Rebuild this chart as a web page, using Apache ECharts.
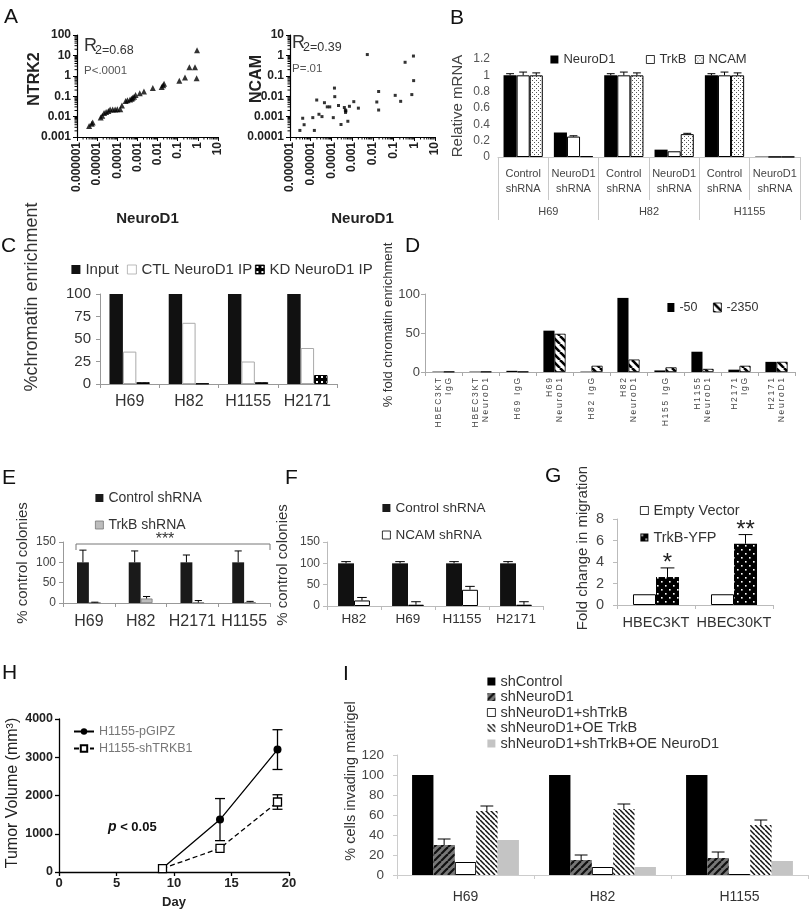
<!DOCTYPE html>
<html><head><meta charset="utf-8">
<script src="https://cdn.jsdelivr.net/npm/echarts@6/dist/echarts.min.js"></script>
<style>html,body{margin:0;padding:0;background:#fff}#c{width:812px;height:909px}</style>
</head><body><div id="c"></div>
<script>
// ================= DATA =================
// Panel A (left): NeuroD1 vs NTRK2
const aNeuroD1_1 = [4.0e-6,5.4e-6,6.0e-6,1.5e-5,1.8e-5,2.2e-5,2.8e-5,3.6e-5,4.4e-5,5.9e-5,7.8e-5,1.0e-4,1.4e-4,1.7e-4,2.6e-4,3.2e-4,4.3e-4,5.2e-4,5.8e-4,6.8e-4,8.1e-4,1.3e-3,2.1e-3,5.8e-3,0.016,0.019,0.021,0.12,0.23,0.38,0.72,0.87,0.91];
const aNTRK2 = [0.0035,0.0045,0.0052,0.0091,0.011,0.015,0.017,0.019,0.022,0.022,0.022,0.023,0.023,0.035,0.058,0.063,0.068,0.076,0.085,0.095,0.115,0.14,0.17,0.25,0.28,0.34,0.41,0.58,0.83,2.6,2.6,0.76,18];
// Panel A (right): NeuroD1 vs NCAM
const aNeuroD1_2 = [3.0e-6,4.1e-6,4.8e-6,1.26e-5,1.5e-5,1.95e-5,2.5e-5,3.5e-5,4.6e-5,6.3e-5,8.3e-5,1.23e-4,1.4e-4,1.45e-4,2.2e-4,2.9e-4,4.2e-4,4.7e-4,4.8e-4,5.0e-4,6.2e-4,7.4e-4,1.2e-3,2.0e-3,5.4e-3,0.0155,0.019,0.019,0.12,0.22,0.36,0.76,0.91,0.93];
const aNCAM = [2.1e-4,8.3e-4,4.0e-4,8.9e-4,2.1e-4,6.5e-3,1.3e-3,1.0e-3,4.8e-3,3.0e-3,3.0e-3,8.9e-4,0.025,9.5e-3,3.5e-3,4.1e-4,2.8e-3,2.1e-3,1.6e-3,1.9e-3,5.9e-4,3.2e-3,5.4e-3,2.6e-3,1.1,5.2e-3,0.017,2.1e-3,0.011,5.6e-3,0.46,0.012,0.93,0.058];
const aXTickLabels = ['0.000001','0.00001','0.0001','0.001','0.01','0.1','1','10'];
const aY1TickLabels = ['0.001','0.01','0.1','1','10','100'];
const aY2TickLabels = ['0.0001','0.001','0.01','0.1','1','10'];

// Panel B
const bCats = ['Control\nshRNA','NeuroD1\nshRNA','Control\nshRNA','NeuroD1\nshRNA','Control\nshRNA','NeuroD1\nshRNA'];
const bGroups = ['H69','H82','H1155'];
const bNeuroD1 = [1,0.30,1,0.09,1,0.005];
const bNeuroD1Err = [0.02,0,0.02,0,0.02,0];
const bTrkB = [1,0.25,1,0.07,1,0.002];
const bTrkBErr = [0.04,0.01,0.04,0,0.04,0];
const bNCAM = [1,0.01,1,0.28,1,0.002];
const bNCAMErr = [0.03,0,0.03,0.01,0.03,0];

// Panel C
const cCats = ['H69','H82','H1155','H2171'];
const cInput = [100,100,100,100];
const cCTL = [36,68,25,40];
const cKD = [2,0.5,2,10];

// Panel D
const dCats = ['HBEC3KT\nIgG','HBEC3KT\nNeuroD1','H69 IgG','H69\nNeuroD1','H82 IgG','H82\nNeuroD1','H155 IgG','H1155\nNeuroD1','H2171\nIgG','H2171\nNeuroD1'];
const dM50 = [0.5,0.5,1.5,53,0.5,95,2,26,3,13];
const dM2350 = [0.5,0.5,0.5,49,8,16,6,4,8,13];

// Panel E
const eCats = ['H69','H82','H2171','H1155'];
const eControl = [100,100,100,100];
const eControlErr = [30,28,18,28];
const eTrkB = [1,11,1,2];
const eTrkBErr = [1,5,5,2];

// Panel F
const fCats = ['H82','H69','H1155','H2171'];
const fControl = [100,100,100,100];
const fControlErr = [4,4,4,4];
const fNCAM = [13,3,38,3];
const fNCAMErr = [7,7,8,7];

// Panel G
const gCats = ['HBEC3KT','HBEC30KT'];
const gEmpty = [1,1];
const gTrkB = [2.6,5.7];
const gTrkBErr = [0.85,0.85];
const gStars = ['*','**'];

// Panel H
const hDays = [9,14,19];
const hPGIPZ = [100,1370,3200];
const hPGIPZErr = [0,550,520];
const hShTRKB1 = [90,620,1830];
const hShTRKB1Err = [0,0,190];

// Panel I
const iCats = ['H69','H82','H1155'];
const iShControl = [100,100,100];
const iShNeuroD1 = [30,15,17];
const iShNeuroD1Err = [6,5,6];
const iShTrkB = [13,8,1];
const iOETrkB = [64,66,50];
const iOETrkBErr = [5,5,5];
const iOENeuroD1 = [35,8,14];

// ================= BUILD =================
const F = 'Liberation Sans';
const grids = [], xAxes = [], yAxes = [], series = [], legends = [], graphics = [];

function mkPattern(size, bg, draw){
  const c = document.createElement('canvas'); c.width = c.height = size;
  const g = c.getContext('2d'); g.fillStyle = bg; g.fillRect(0,0,size,size); draw(g,size);
  return {image:c, repeat:'repeat'};
}
const dotsPat = mkPattern(4,'#fff',g=>{g.fillStyle='#555';g.fillRect(0,0,1,1);g.fillRect(2,2,1,1);});
const kdPat = mkPattern(5,'#000',g=>{g.fillStyle='#fff';g.fillRect(1,1,2,2);});
const yfpPat = mkPattern(8,'#000',g=>{g.fillStyle='#fff';g.fillRect(1,1,1.6,1.6);g.fillRect(5,5,1.6,1.6);});
function backPat(size,bg,fg,lw){return mkPattern(size,bg,(g,s)=>{g.strokeStyle=fg;g.lineWidth=lw;for(const k of [-s,0,s]){g.beginPath();g.moveTo(k,0);g.lineTo(k+s,s);g.stroke();}});}
function fwdPat(size,bg,fg,lw){return mkPattern(size,bg,(g,s)=>{g.strokeStyle=fg;g.lineWidth=lw;for(const k of [-s,0,s]){g.beginPath();g.moveTo(k,s);g.lineTo(k+s,0);g.stroke();}});}
const d2350Pat = backPat(8,'#fff','#000',2.6);
const iNeuroPat = fwdPat(7,'#777','#111',2.2);
const iOEPat = backPat(5,'#fff','#111',1.5);

function addGrid(l,t,w,h){grids.push({left:l,top:t,width:w,height:h,containLabel:false,outerBoundsMode:'none'});return grids.length-1;}

function catAxis(gi,data,o){
  o=o||{};
  const lc=o.lc||'#999';
  return {type:'category',gridIndex:gi,data,
    axisLine:{show:o.line!==false,lineStyle:{color:lc,width:1}},
    axisTick:{show:true,length:o.tl||4,interval:0,lineStyle:{color:lc}},
    axisLabel:{interval:0,hideOverlap:false,fontSize:o.fs||12,color:o.c||'#333',margin:o.m==null?8:o.m,fontFamily:F,lineHeight:o.lh,rotate:o.rot||0,formatter:o.fmt},
    splitLine:{show:false},position:o.pos||'bottom',offset:o.off||0};
}
function valAxis(gi,min,max,interval,o){
  o=o||{};
  const lc=o.lc||'#999';
  return {type:'value',gridIndex:gi,min,max,interval,
    axisLine:{show:o.line!==false,lineStyle:{color:lc,width:o.lw||1}},
    axisTick:{show:o.tick!==false,length:4,lineStyle:{color:lc,width:o.lw||1}},
    axisLabel:{fontSize:o.fs||12,color:o.c||'#444',margin:o.m==null?8:o.m,fontFamily:F,fontWeight:o.fw||'normal',showMinLabel:true,showMaxLabel:true,formatter:v=>String(+v.toFixed(4))},
    splitLine:{show:false}};
}
function bar(name,xi,yi,data,color,gap,o){
  o=o||{};
  return {type:'bar',name,xAxisIndex:xi,yAxisIndex:yi,data,barGap:'0%',barCategoryGap:(gap*100)+'%',
    itemStyle:{color,borderColor:o.bc||'transparent',borderWidth:o.bw||0},emphasis:{disabled:true},silent:true};
}
function errSeries(xi,yi,vals,errs,bi,n,gap,stars,starSize){
  const data = vals.map((v,i)=>[i,v,errs[i]]);
  return {type:'custom',xAxisIndex:xi,yAxisIndex:yi,silent:true,z:5,data,
    renderItem(params,api){
      const i=api.value(0), v=api.value(1), e=api.value(2);
      const p0=api.coord([i,v]), p1=api.coord([i,v+e]);
      const band=api.size([1,0])[0];
      const bw=band*(1-gap)/n;
      const x=p0[0]-band*(1-gap)/2+bw*(bi+0.5);
      const cap=Math.max(2.5,bw*0.3);
      const ch=[];
      if(e>0){
        ch.push({type:'line',shape:{x1:x,y1:p0[1],x2:x,y2:p1[1]},style:{stroke:'#000',lineWidth:1}});
        ch.push({type:'line',shape:{x1:x-cap,y1:p1[1],x2:x+cap,y2:p1[1]},style:{stroke:'#000',lineWidth:1}});
      }
      if(stars){
        ch.push({type:'text',x:x,y:p1[1]-4.5,style:{text:stars[params.dataIndex],fontSize:starSize,fontFamily:F,fill:'#222',align:'center',verticalAlign:'middle'}});
      }
      return {type:'group',children:ch};
    }};
}
function leg(names,left,top,o){
  o=o||{};
  const l={data:names,left,top,orient:o.orient||'horizontal',itemWidth:o.iw||8,itemHeight:o.ih||8,itemGap:o.gap==null?10:o.gap,padding:0,selectedMode:false,
    itemStyle:{borderWidth:0.8},
    textStyle:{fontSize:o.fs||13,color:o.c||'#333',fontFamily:F,lineHeight:o.lh}};
  if(o.icon!==null) l.icon=o.icon||'rect'; else delete l.itemStyle;
  legends.push(l);
}
function txt(x,y,text,o){
  o=o||{};
  graphics.push({type:'text',x,y,rotation:o.rot||0,silent:true,style:{text,fontSize:o.fs||14,fontFamily:F,fontWeight:o.fw||'normal',fill:o.c||'#222',align:o.align||'left',verticalAlign:o.va||'middle',rich:o.rich}});
}
function vtext(x,y,text,fs,c,fw){txt(x,y,text,{rot:Math.PI/2,fs,align:'center',c:c||'#333',fw});}

// ---------- Panel A ----------
function logAxisX(gi,labels){
  return {type:'log',gridIndex:gi,logBase:10,min:1e-6,max:10,
    axisLine:{lineStyle:{color:'#000',width:1.2}},axisTick:{length:4,lineStyle:{color:'#000'}},
    axisLabel:{rotate:90,fontSize:12,fontWeight:'bold',color:'#222',margin:5,fontFamily:F,showMinLabel:true,showMaxLabel:true,
      formatter:v=>labels[Math.round(Math.log10(v))+6]},
    splitLine:{show:false},name:'NeuroD1',nameLocation:'middle',nameGap:74,
    nameTextStyle:{fontSize:15,fontWeight:'bold',color:'#222',fontFamily:F}};
}
function logAxisY(gi,labels,min,max){
  const off=-Math.round(Math.log10(min));
  return {type:'log',gridIndex:gi,logBase:10,min,max,
    axisLine:{lineStyle:{color:'#000',width:1.2}},axisTick:{length:4,lineStyle:{color:'#000'}},
    axisLabel:{fontSize:12,fontWeight:'bold',color:'#222',margin:6,fontFamily:F,showMinLabel:true,showMaxLabel:true,
      formatter:v=>labels[Math.round(Math.log10(v))+off]},
    splitLine:{show:false}};
}
// log minor ticks (2..9 x 10^k) drawn along each log axis
function logMinor(xi,yi,xMin,xMax,yMin,yMax){
  const d=[];
  for(let k=Math.round(Math.log10(xMin));k<Math.round(Math.log10(xMax));k++) for(let m=2;m<10;m++) d.push([m*Math.pow(10,k),yMin,0]);
  for(let k=Math.round(Math.log10(yMin));k<Math.round(Math.log10(yMax));k++) for(let m=2;m<10;m++) d.push([xMin,m*Math.pow(10,k),1]);
  return {type:'custom',xAxisIndex:xi,yAxisIndex:yi,silent:true,clip:false,data:d,
    renderItem(p,api){
      const c=api.coord([api.value(0),api.value(1)]);
      const s={stroke:'#000',lineWidth:1};
      return api.value(2)===0
        ? {type:'line',shape:{x1:c[0],y1:c[1],x2:c[0],y2:c[1]+2.5},style:s}
        : {type:'line',shape:{x1:c[0]-2.5,y1:c[1],x2:c[0],y2:c[1]},style:s};
    }};
}
const gA1=addGrid(77,35,141,102), gA2=addGrid(290,35,145,102);
xAxes.push(logAxisX(gA1,aXTickLabels)); const xA1=xAxes.length-1;
xAxes.push(logAxisX(gA2,aXTickLabels)); const xA2=xAxes.length-1;
yAxes.push(logAxisY(gA1,aY1TickLabels,0.001,100)); const yA1=yAxes.length-1;
yAxes.push(logAxisY(gA2,aY2TickLabels,0.0001,10)); const yA2=yAxes.length-1;
series.push({type:'scatter',name:'A-NTRK2',xAxisIndex:xA1,yAxisIndex:yA1,symbol:'triangle',symbolSize:6,itemStyle:{color:'#000'},data:aNeuroD1_1.map((x,i)=>[x,aNTRK2[i]]),silent:true});
series.push({type:'scatter',name:'A-NCAM',xAxisIndex:xA2,yAxisIndex:yA2,symbol:'rect',symbolSize:3,itemStyle:{color:'#000'},data:aNeuroD1_2.map((x,i)=>[x,aNCAM[i]]),silent:true});
series.push(logMinor(xA1,yA1,1e-6,10,0.001,100));
series.push(logMinor(xA2,yA2,1e-6,10,0.0001,10));
vtext(35,79,'NTRK2',16,'#222','bold');
vtext(257,79,'NCAM',16,'#222','bold');
txt(84,46,'R',{fs:18,c:'#333'}); txt(95,51,'2=0.68',{fs:12.5,c:'#333'});
txt(84,71,'P<.0001',{fs:11.5,c:'#555'});
txt(292,43,'R',{fs:18,c:'#333'}); txt(303,48,'2=0.39',{fs:12.5,c:'#333'});
txt(292,69,'P=.01',{fs:11.5,c:'#555'});

// ---------- Panel B ----------
const gB=addGrid(498,59,302,98);
xAxes.push(catAxis(gB,bCats,{lc:'#c8c8c8',tl:43,fs:11,c:'#444',m:9,lh:15})); const xB=xAxes.length-1;
xAxes.push(catAxis(gB,bGroups,{lc:'#c8c8c8',tl:20,fs:11,c:'#444',m:6,off:43,line:false})); 
yAxes.push(valAxis(gB,0,1.2,0.2,{line:false,tick:false,c:'#555',m:8})); const yB=yAxes.length-1;
const gapB=0.22;
series.push(bar('NeuroD1',xB,yB,bNeuroD1,'#000',gapB));
series.push(bar('TrkB',xB,yB,bTrkB,'#fff',gapB,{bc:'#000',bw:1}));
series.push(bar('NCAM',xB,yB,bNCAM,dotsPat,gapB,{bc:'#000',bw:1}));
series.push(errSeries(xB,yB,bNeuroD1,bNeuroD1Err,0,3,gapB));
series.push(errSeries(xB,yB,bTrkB,bTrkBErr,1,3,gapB));
series.push(errSeries(xB,yB,bNCAM,bNCAMErr,2,3,gapB));
leg(['NeuroD1'],550,53); leg(['TrkB'],646,53); leg(['NCAM'],695,53);
vtext(458,106,'Relative mRNA',15,'#444');

// ---------- Panel C ----------
const gC=addGrid(100,294,237,90);
xAxes.push(catAxis(gC,cCats,{lc:'#999',fs:16,c:'#333',m:10})); const xC=xAxes.length-1;
yAxes.push(valAxis(gC,0,100,25,{lc:'#999',fs:15,c:'#333',m:9})); const yC=yAxes.length-1;
const gapC=0.32;
series.push(bar('Input',xC,yC,cInput,'#111',gapC));
series.push(bar('CTL NeuroD1 IP',xC,yC,cCTL,'#fff',gapC,{bc:'#aaa',bw:1}));
series.push(bar('KD NeuroD1 IP',xC,yC,cKD,kdPat,gapC,{bc:'#000',bw:1}));
leg(['Input'],71,262,{fs:15,iw:9,ih:9}); leg(['CTL NeuroD1 IP'],127,262,{fs:15,iw:9,ih:9}); leg(['KD NeuroD1 IP'],255,262,{fs:15,iw:9,ih:9});
vtext(32,297,'%chromatin enrichment',18,'#333');

// ---------- Panel D ----------
const gD=addGrid(425,294,370,78);
xAxes.push(catAxis(gD,dCats,{lc:'#aaa',fs:8.5,c:'#444',m:6,lh:10,rot:90,fmt:s=>s.split('\n').map(l=>l.split('').join('\u2009')).join('\n')})); const xD=xAxes.length-1;
yAxes.push(valAxis(gD,0,100,50,{lc:'#aaa',fs:13,c:'#444',m:5})); const yD=yAxes.length-1;
const gapD=0.4;
series.push(bar('-50',xD,yD,dM50,'#000',gapD));
series.push(bar('-2350',xD,yD,dM2350,d2350Pat,gapD,{bc:'#000',bw:0.8}));
leg(['-50'],667,301,{fs:12.5,iw:7,ih:9,gap:0}); leg(['-2350'],713,301,{fs:12.5,iw:8,ih:9});
vtext(388,325,'% fold chromatin enrichment',13,'#333');

// ---------- Panel E ----------
const gE=addGrid(63,542,207,61);
xAxes.push(catAxis(gE,eCats,{lc:'#999',fs:16,c:'#333',m:11})); const xE=xAxes.length-1;
yAxes.push(valAxis(gE,0,150,50,{lc:'#999',fs:12,c:'#444',m:7})); const yE=yAxes.length-1;
const gapE=0.54;
series.push(bar('Control shRNA',xE,yE,eControl,'#1a1a1a',gapE));
series.push(bar('TrkB shRNA',xE,yE,eTrkB,'#bdbdbd',gapE,{bc:'#777',bw:0.8}));
series.push(errSeries(xE,yE,eControl,eControlErr,0,2,gapE));
series.push(errSeries(xE,yE,eTrkB,eTrkBErr,1,2,gapE));
leg(['Control shRNA','TrkB shRNA'],95,491,{orient:'vertical',fs:14,gap:13});
vtext(23,563,'% control colonies',15,'#333');
graphics.push({type:'polyline',silent:true,shape:{points:[[76,550],[76,544],[270,544],[270,550]]},style:{stroke:'#777',lineWidth:1,fill:null}});
txt(165,540,'***',{fs:16,align:'center',c:'#333'});

// ---------- Panel F ----------
const gF=addGrid(327,542,216,64);
xAxes.push(catAxis(gF,fCats,{lc:'#bbb',fs:13.5,c:'#333',m:6})); const xF=xAxes.length-1;
yAxes.push(valAxis(gF,0,150,50,{lc:'#bbb',fs:12,c:'#444',m:7})); const yF=yAxes.length-1;
const gapF=0.41;
series.push(bar('Control shRNA',xF,yF,fControl,'#111',gapF));
series.push(bar('NCAM shRNA',xF,yF,fNCAM,'#fff',gapF,{bc:'#000',bw:1}));
series.push(errSeries(xF,yF,fControl,fControlErr,0,2,gapF));
series.push(errSeries(xF,yF,fNCAM,fNCAMErr,1,2,gapF));
leg(['Control shRNA','NCAM shRNA'],382,501,{orient:'vertical',fs:13.5,gap:13,iw:8,ih:8});
vtext(283,565,'% control colonies',15,'#333');

// ---------- Panel G ----------
const gG=addGrid(617,519,156,86);
xAxes.push(catAxis(gG,gCats,{lc:'#bbb',fs:14.5,c:'#333',m:10})); const xG=xAxes.length-1;
yAxes.push(valAxis(gG,0,8,2,{lc:'#bbb',fs:14.5,c:'#444',m:13})); const yG=yAxes.length-1;
const gapG=0.41;
series.push(bar('Empty Vector',xG,yG,gEmpty,'#fff',gapG,{bc:'#000',bw:1}));
series.push(bar('TrkB-YFP',xG,yG,gTrkB,yfpPat,gapG));
series.push(errSeries(xG,yG,gTrkB,gTrkBErr,1,2,gapG,gStars,24));
leg(['Empty Vector','TrkB-YFP'],640,503,{orient:'vertical',fs:14.5,gap:12,iw:8,ih:8});
vtext(583,548,'Fold change in migration',15,'#333');

// ---------- Panel H ----------
const gH=addGrid(59,719,230,153);
xAxes.push(Object.assign(valAxis(gH,0,20,5,{lc:'#000',lw:1.3,fs:13,fw:'bold',c:'#222',m:5}),{name:'Day',nameLocation:'middle',nameGap:24,nameTextStyle:{fontSize:13,fontWeight:'bold',color:'#222',fontFamily:F}})); const xH=xAxes.length-1;
yAxes.push(valAxis(gH,0,4000,1000,{lc:'#000',lw:1.3,fs:12.5,fw:'bold',c:'#222',m:6})); const yH=yAxes.length-1;
series.push({type:'line',name:'H1155-pGIPZ',xAxisIndex:xH,yAxisIndex:yH,data:hDays.map((d,i)=>[d,hPGIPZ[i]]),symbol:'circle',symbolSize:8,itemStyle:{color:'#000'},lineStyle:{color:'#000',width:1.3},silent:true});
series.push({type:'line',name:'H1155-shTRKB1',xAxisIndex:xH,yAxisIndex:yH,data:hDays.map((d,i)=>[d,hShTRKB1[i]]),symbol:'rect',symbolSize:8,itemStyle:{color:'#fff',borderColor:'#000',borderWidth:1.3},lineStyle:{color:'#000',width:1.3,type:[5,3]},silent:true});
function hErr(vals,errs){
  return {type:'custom',xAxisIndex:xH,yAxisIndex:yH,silent:true,z:1,data:hDays.map((d,i)=>[d,vals[i]-errs[i],vals[i]+errs[i]]),
    renderItem(p,api){
      const x=api.value(0),lo=api.value(1),hi=api.value(2);
      if(hi-lo<=0) return;
      const a=api.coord([x,lo]), b=api.coord([x,hi]);
      const st={stroke:'#000',lineWidth:1.3};
      return {type:'group',children:[
        {type:'line',shape:{x1:a[0],y1:a[1],x2:b[0],y2:b[1]},style:st},
        {type:'line',shape:{x1:a[0]-5,y1:a[1],x2:a[0]+5,y2:a[1]},style:st},
        {type:'line',shape:{x1:b[0]-5,y1:b[1],x2:b[0]+5,y2:b[1]},style:st}]};
    }};
}
series.push(hErr(hPGIPZ,hPGIPZErr));
series.push(hErr(hShTRKB1,hShTRKB1Err));
leg(['H1155-pGIPZ','H1155-shTRKB1'],73,725,{orient:'vertical',icon:null,iw:20,ih:8,fs:12.5,c:'#777',gap:4});
vtext(13,793,'Tumor Volume (mm³)',16,'#222');
txt(108,827,'{i|p}{n| < 0.05}',{rich:{i:{fontSize:14,fontWeight:'bold',fontStyle:'italic',fontFamily:F,fill:'#111'},n:{fontSize:13,fontWeight:'bold',fontFamily:F,fill:'#111'}}});

// ---------- Panel I ----------
const gI=addGrid(397,755,411,120);
xAxes.push(catAxis(gI,iCats,{lc:'#ccc',fs:14,c:'#333',m:15})); const xI=xAxes.length-1;
yAxes.push(valAxis(gI,0,120,20,{lc:'#ccc',fs:13.5,c:'#444',m:13})); const yI=yAxes.length-1;
const gapI=0.22;
series.push(bar('shControl',xI,yI,iShControl,'#000',gapI));
series.push(bar('shNeuroD1',xI,yI,iShNeuroD1,iNeuroPat,gapI));
series.push(bar('shNeuroD1+shTrkB',xI,yI,iShTrkB,'#fff',gapI,{bc:'#000',bw:1}));
series.push(bar('shNeuroD1+OE TrkB',xI,yI,iOETrkB,iOEPat,gapI));
series.push(bar('shNeuroD1+shTrkB+OE NeuroD1',xI,yI,iOENeuroD1,'#c4c4c4',gapI));
series.push(errSeries(xI,yI,iShNeuroD1,iShNeuroD1Err,1,5,gapI));
series.push(errSeries(xI,yI,iOETrkB,iOETrkBErr,3,5,gapI));
leg(['shControl','shNeuroD1','shNeuroD1+shTrkB','shNeuroD1+OE TrkB','shNeuroD1+shTrkB+OE NeuroD1'],487,674,{orient:'vertical',fs:14.5,lh:12,gap:0.5,iw:8,ih:8});
vtext(351,781,'% cells invading matrigel',14.5,'#333');

// Panel letters
[['A',4,16],['B',450,17],['C',1,245],['D',405,245],['E',2,477],['F',285,477],['G',545,475],['H',2,672],['I',343,673]]
  .forEach(([t,x,y])=>txt(x,y+1,t,{fs:21,c:'#111'}));

const chart = echarts.init(document.getElementById('c'),null,{renderer:'canvas'});
chart.setOption({animation:false,backgroundColor:'#fff',textStyle:{fontFamily:F},
  grid:grids,xAxis:xAxes,yAxis:yAxes,series,legend:legends,graphic:{elements:graphics}});
</script></body></html>
